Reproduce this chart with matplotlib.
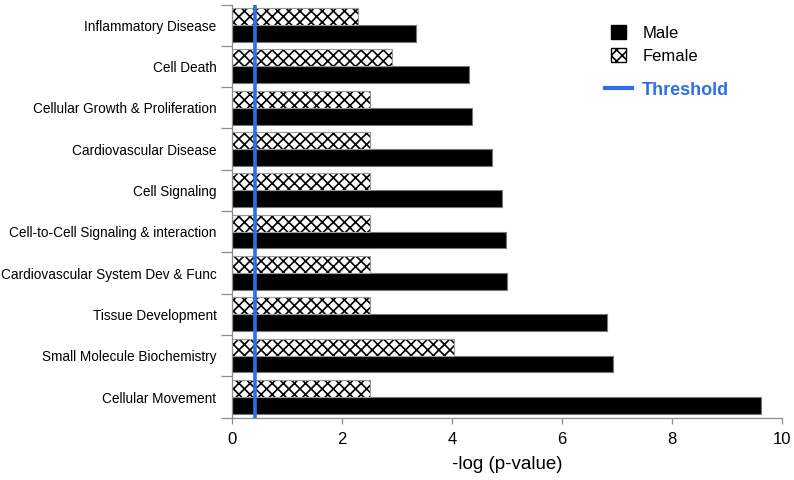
"""Pathway enrichment by sex, -log(p-value)"""

import matplotlib
matplotlib.use("Agg")
import matplotlib.pyplot as plt
from matplotlib.patches import Patch
from matplotlib.lines import Line2D
import numpy as np

plt.rcParams['font.family'] = ['Liberation Sans', 'DejaVu Sans']
plt.rcParams['hatch.linewidth'] = 1.2

categories = [
    "Cellular Movement",
    "Small Molecule Biochemistry",
    "Tissue Development",
    "Cardiovascular System Dev & Func",
    "Cell-to-Cell Signaling & interaction",
    "Cell Signaling",
    "Cardiovascular Disease",
    "Cellular Growth & Proliferation",
    "Cell Death",
    "Inflammatory Disease",
]
male = [9.62, 6.92, 6.81, 5.0, 4.99, 4.91, 4.72, 4.36, 4.31, 3.34]
female = [2.52, 4.04, 2.52, 2.52, 2.52, 2.52, 2.52, 2.52, 2.91, 2.30]
threshold = 0.42

blue = '#2f6fe6'
axis_grey = '#8c8c8c'

fig = plt.figure(figsize=(7.94, 4.80), dpi=100)
ax = fig.add_axes([0.2918, 0.1298, 0.6935, 0.8608])

y = np.arange(len(categories))
h = 0.41

# male below, female (hatched) above within each category
ax.barh(y - 0.2, male, height=h, color='black', edgecolor='#777777', linewidth=0.8)
ax.barh(y + 0.21, female, height=h, color='white', edgecolor='black', linewidth=0,
        hatch='xxx')
ax.barh(y + 0.21, female, height=h, fill=False, edgecolor='#999999', linewidth=0.8)

ax.axvline(threshold, color=blue, linewidth=2.6, zorder=5)

ax.set_xlim(0, 10)
ax.set_ylim(-0.5, len(categories) - 0.5)
ax.set_xticks(np.arange(0, 11, 2))
ax.tick_params(axis='x', labelsize=12, colors=axis_grey, labelcolor='black',
               length=4, width=0.9, pad=6)

# ticks at category boundaries, labels at centres
ax.set_yticks(np.arange(-0.5, len(categories), 1.0))
ax.set_yticklabels([])
ax.set_yticks(y, minor=True)
ax.set_yticklabels(categories, minor=True, fontsize=9.8)
ax.tick_params(axis='y', which='major', length=8, width=0.9, colors=axis_grey)
ax.tick_params(axis='y', which='minor', length=0, pad=11, labelcolor='black')

for s in ['top', 'right']:
    ax.spines[s].set_visible(False)
for s in ['left', 'bottom']:
    ax.spines[s].set_color(axis_grey)
    ax.spines[s].set_linewidth(0.9)

ax.set_xlabel("-log (p-value)", fontsize=13.5, labelpad=7)

handles = [
    Patch(facecolor='black', edgecolor='black', label='Male'),
    Patch(facecolor='white', edgecolor='black', hatch='xxx', label='Female'),
]
leg1 = ax.legend(handles=handles, loc='upper left', bbox_to_anchor=(0.661, 0.986),
                 frameon=False, fontsize=12, handlelength=0.9, handleheight=0.9,
                 handletextpad=1.0, labelspacing=0.45)
ax.add_artist(leg1)
leg2 = ax.legend(handles=[Line2D([], [], color=blue, linewidth=3, label='Threshold')],
                 loc='upper left', bbox_to_anchor=(0.648, 0.853), frameon=False,
                 prop={'size': 13, 'weight': 'bold'}, handlelength=1.5,
                 handletextpad=0.55)
for t in leg2.get_texts():
    t.set_color(blue)

fig.savefig("out.png", dpi=100)
